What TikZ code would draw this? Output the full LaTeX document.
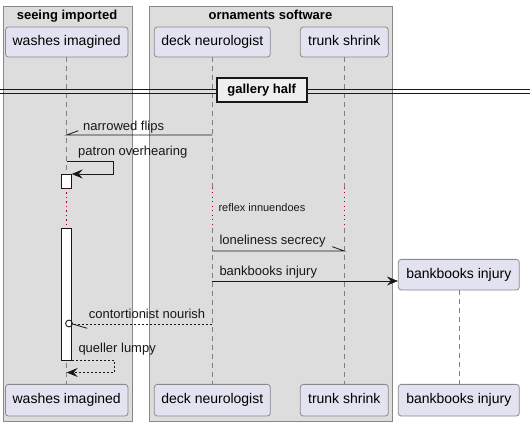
\documentclass[tikz,border=0pt]{standalone}
\usepackage{fontspec}
\setmainfont{Liberation Sans}
\usetikzlibrary{arrows.meta}
\definecolor{grpfill}{HTML}{DDDDDD}
\definecolor{grpdraw}{HTML}{888888}
\definecolor{partfill}{HTML}{E2E2F0}
\definecolor{partdraw}{HTML}{8A8A8A}
\definecolor{lifec}{HTML}{808080}
\definecolor{delayc}{HTML}{A80036}
\definecolor{ink}{HTML}{181818}
\definecolor{sepfill}{HTML}{EEEEEE}
\begin{document}
\begin{tikzpicture}[x=1pt,y=-1pt,
  grpbox/.style={draw=grpdraw,fill=grpfill,line width=0.8pt,anchor=north west,inner sep=0pt},
  grptitle/.style={font=\fontsize{13}{15}\selectfont\bfseries,anchor=base,inner sep=0pt},
  part/.style={draw=partdraw,fill=partfill,rounded corners=3pt,line width=0.8pt,
    minimum height=30pt,inner sep=0pt,text height=10.5pt,text depth=3pt,font=\fontsize{14}{16}\selectfont},
  life/.style={draw=lifec,line width=0.6pt,dash pattern=on 5pt off 4pt},
  delayline/.style={draw=delayc,line width=0.9pt,dash pattern=on 1pt off 3.5pt},
  msg/.style={draw=ink,line width=0.8pt},
  dmsg/.style={draw=ink,line width=0.8pt,dash pattern=on 2pt off 2pt},
  tip/.style={-{Stealth[length=11pt,width=9pt,inset=4pt]}},
  lbl/.style={font=\fontsize{13}{15}\selectfont,anchor=base west,inner sep=0pt,text=ink},
  act/.style={draw=ink,fill=white,line width=0.8pt}
]
\useasboundingbox (0,0) rectangle (530,426);
\fill[white] (0,0) rectangle (530,426);

% groups
\node[grpbox,minimum width=129pt,minimum height=415pt] (g1) at (2.5,6) {};
\node[grpbox,minimum width=243pt,minimum height=415pt] (g2) at (149,6) {};
\node[grptitle] (g1t) at (67,19) {seeing imported};
\node[grptitle] (g2t) at (270.5,19) {ornaments software};

% participants
\node[part,minimum width=122.4pt] (wT) at (66.7,42) {washes imagined};
\node[part,minimum width=116pt] (dT) at (212.3,42) {deck neurologist};
\node[part,minimum width=88pt] (tT) at (344.3,42) {trunk shrink};
\node[part,minimum width=121pt,minimum height=30.7pt] (bT) at (458.8,274.7) {bankbooks injury};
\node[part,minimum width=122.4pt,minimum height=31.7pt] (wB) at (66.7,400.2) {washes imagined};
\node[part,minimum width=116pt,minimum height=31.7pt] (dB) at (212.3,400.2) {deck neurologist};
\node[part,minimum width=88pt,minimum height=31.7pt] (tB) at (344.3,400.2) {trunk shrink};
\node[part,minimum width=121pt,minimum height=31.7pt] (bB) at (458.8,400.2) {bankbooks injury};

% lifelines
\foreach \p/\x in {w/66.7,d/212.3,t/344.3}{
  \coordinate (\p D1) at (\x,187.5);
  \coordinate (\p D2) at (\x,228);
  \draw[life] (\p T.south) -- (\p D1);
  \draw[delayline] (\p D1) -- (\p D2);
  \draw[life] (\p D2) -- (\p B.north);
}
\draw[life] (bT.south) -- (bB.north);

% separator
\draw[ink,line width=0.9pt] (0,89) -- (530,89);
\draw[ink,line width=0.9pt] (0,93.5) -- (530,93.5);
\node[draw=ink,fill=sepfill,line width=2pt,minimum width=90pt,minimum height=23.5pt,inner sep=0pt,
  font=\fontsize{13}{15}\selectfont\bfseries] (sep) at (261.7,90) {gallery half};

% activations
\node[act,minimum width=10pt,minimum height=13.5pt,inner sep=0pt,anchor=north] (a1) at (66.5,174) {};
\node[act,minimum width=10pt,minimum height=132pt,inner sep=0pt,anchor=north] (a2) at (66.5,228) {};
\draw[delayline] (a1.south) -- (a2.north);

% narrowed flips
\coordinate (m1s) at (212.3,135);
\coordinate (m1e) at (66.7,135);
\draw[msg] (m1s) -- (m1e) -- ++(11.6,-4.3);
\node[lbl] (l1) at (83,130) {narrowed flips};

% patron overhearing
\coordinate (m2s) at (66.7,161);
\coordinate (m2e) at (71.7,174);
\draw[msg,tip] (m2s) -- (113.3,161) -- (113.3,174) -- (m2e);
\node[lbl] (l2) at (78,155) {patron overhearing};

% delay text
\node[font=\fontsize{11}{13}\selectfont,anchor=base west,inner sep=0pt,text=ink] (l3) at (218.3,211) {reflex innuendoes};

% loneliness secrecy
\coordinate (m4s) at (212.3,251);
\coordinate (m4e) at (344.3,251);
\draw[msg] (m4s) -- (m4e) -- ++(-12,-4.3);
\node[lbl] (l4) at (219.3,244.5) {loneliness secrecy};

% bankbooks injury
\coordinate (m5s) at (212.3,281);
\coordinate (m5e) at (bT.west |- m5s);
\draw[msg,tip] (m5s) -- (m5e);
\node[lbl] (l5) at (219.3,275.5) {bankbooks injury};

% contortionist nourish
\coordinate (m6s) at (212.3,324);
\coordinate (m6c) at (69,323.5);
\draw[dmsg] (m6s) -- (72.4,324);
\draw[ink,line width=0.9pt] (m6c) circle (3.4pt);
\draw[msg] (72.4,324) -- (87.3,328.3);
\node[lbl] (l6) at (88.7,318.5) {contortionist nourish};

% queller lumpy
\coordinate (m7s) at (71.7,360);
\coordinate (m7e) at (66.7,372.5);
\draw[dmsg,tip] (m7s) -- (114,360) -- (114,372.5) -- (m7e);
\node[lbl] (l7) at (78.3,352.5) {queller lumpy};
\end{tikzpicture}
\end{document}
